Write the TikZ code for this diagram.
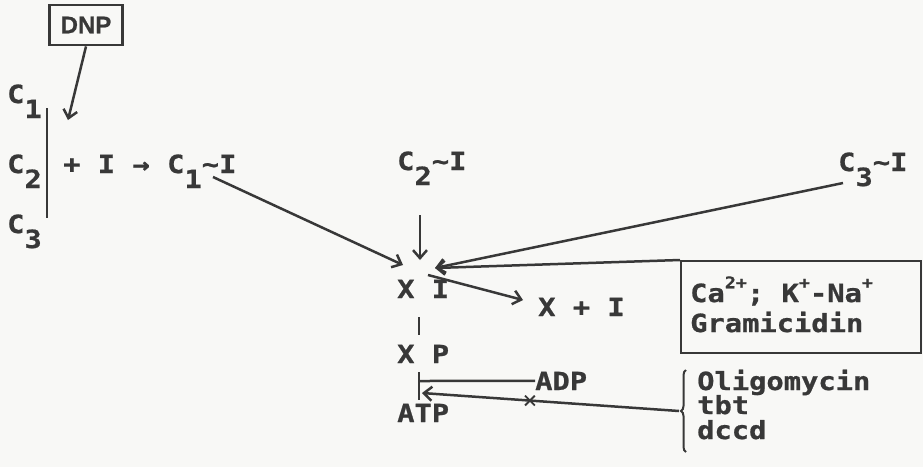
\documentclass[tikz,border=0pt]{standalone}
\usepackage{fontspec}
\usetikzlibrary{arrows.meta,shapes.misc,decorations.pathreplacing}
\newfontfamily\tw{DejaVu Sans Mono}[FakeStretch=1.15, BoldFeatures={FakeBold=0.8}]
\newfontfamily\dnpfont{Liberation Sans}[BoldFeatures={FakeBold=0.8}]
\definecolor{ink}{HTML}{383838}
\definecolor{paper}{HTML}{F8F8F6}
\newcommand\dn[1]{\raisebox{-0.6em}{#1}}
\newcommand\up[1]{\raisebox{0.55em}{\fontsize{16}{16}\selectfont #1}}
\newcommand\tl{\char`\~}
\begin{document}
\begin{tikzpicture}[x=1pt,y=-1pt,
  every node/.style={inner sep=0pt, text=ink},
  lab/.style={font=\tw\bfseries\fontsize{25}{25}\selectfont, anchor=base west},
  ln/.style={draw=ink, line width=2.5pt},
  arr/.style={ln, -{Straight Barb[length=8pt,width=14pt]}}]
\fill[paper] (0,0) rectangle (923,467);
\useasboundingbox (0,0) rectangle (923,467);
% DNP
\node[draw=ink, line width=2.8pt, minimum width=73pt, minimum height=40pt,
      font=\dnpfont\bfseries\fontsize{24}{24}\selectfont] (dnp) at (86,25) {DNP};
% labels
\node[lab] (c1) at (7,103) {C\dn{1}};
\node[lab] (c2) at (7,173) {C\dn{2}};
\node[lab] (c3) at (7,233) {C\dn{3}};
\node[lab] (pi) at (63,173) {+ I →};
\node[lab] (c1i) at (167,173) {C\dn{1}\tl I};
\node[lab] (c2i) at (397,170) {C\dn{2}\tl I};
\node[lab] (c3i) at (838,171) {C\dn{3}\tl I};
\node[lab] (xi) at (397,298) {X I};
\node[lab] (xpi) at (538,316) {X + I};
\node[lab] (xp) at (397,363) {X P};
\node[lab] (adp) at (535,390) {ADP};
\node[lab] (atp) at (397,422) {ATP};
\node[draw=ink, line width=1.8pt, anchor=north west, minimum width=240pt, minimum height=92pt] (box) at (680,260) {};
\node[lab] (ca) at (690,302) {Ca\up{2+}; K\up{+}-Na\up{+}};
\node[lab] (gr) at (690,332) {Gramicidin};
\node[lab] (ol) at (697,390) {Oligomycin};
\node[lab] (tb) at (697,414) {tbt};
\node[lab] (dc) at (697,439) {dccd};
% coordinates
\coordinate (dnpTip) at (68,120);
\coordinate (c1o) at (213,177);
\coordinate (xiTL) at (403,265);
\coordinate (c2o) at (420,215);
\coordinate (xiT) at (420,260);
\coordinate (c3o) at (843,183);
\coordinate (xiR) at (435,268);
\coordinate (xiS) at (428,275);
\coordinate (xpiW) at (523,300);
\coordinate (barA) at (47,108);
\coordinate (barB) at (47,218);
\coordinate (b1a) at (419,317);
\coordinate (b1b) at (419,335);
\coordinate (b2a) at (419,372);
\coordinate (b2b) at (419,400);
\coordinate (adpJ) at (419,381);
\coordinate (atpTip) at (422,393);
\coordinate (bt) at (679,411);
% connectors
\draw[arr] (dnp.south) -- (dnpTip);
\draw[ln] (barA) -- (barB);
\draw[arr] (c1o) -- (xiTL);
\draw[arr] (c2o) -- (xiT);
\draw[arr] (c3o) -- (xiR);
\draw[arr] (box.north west) -- (xiR);
\draw[arr] (xiS) -- (xpiW);
\draw[ln] (b1a) -- (b1b);
\draw[ln] (b2a) -- (b2b);
\draw[ln] (adp.west) -- (adpJ);
\draw[arr] (bt) -- node[pos=0.58, cross out, draw=ink, line width=1.8pt, minimum size=8pt]{} (atpTip);
\draw[ink, line width=2pt, decorate, decoration={brace, amplitude=5pt}] (686,452) -- (686,370);
\end{tikzpicture}
\end{document}
